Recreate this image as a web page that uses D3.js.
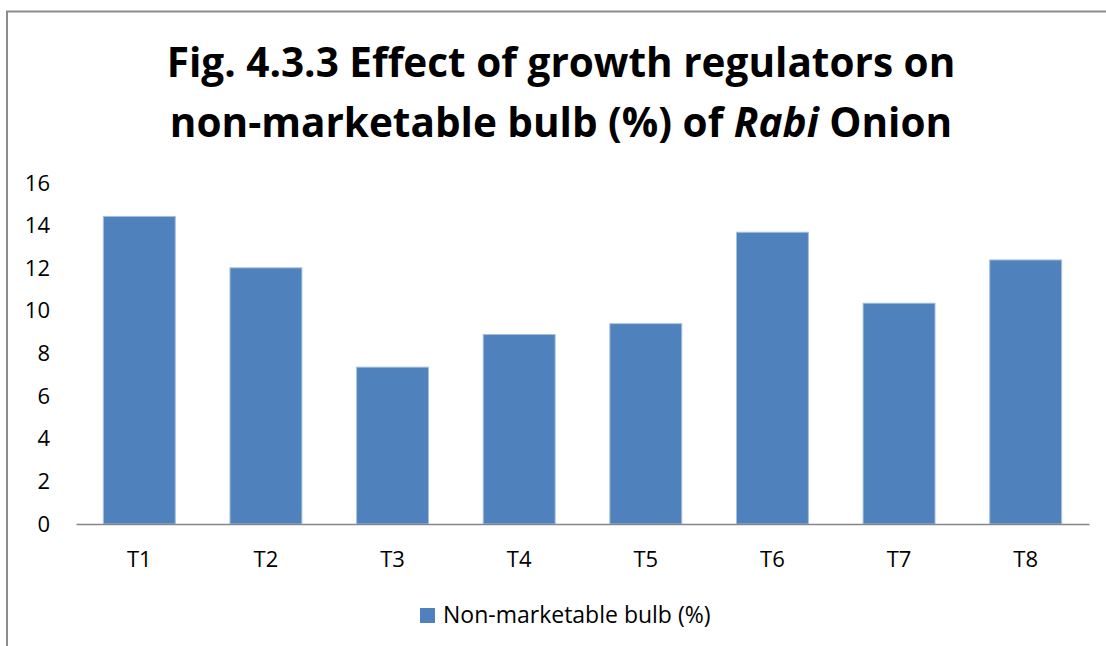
<!DOCTYPE html>
<html>
<head>
<meta charset="utf-8">
<script src="https://cdn.jsdelivr.net/npm/d3@7"></script>
<style>
	body { margin: 0; background: #fff; }
	svg { display: block; font-family: "Open Sans", "Noto Sans", sans-serif; }
</style>
</head>
<body>
<div id="chart"></div>
<script>

// data
var treatments= ["T1", "T2", "T3", "T4", "T5", "T6", "T7", "T8"];
var nonMarketable= [14.43, 12.02, 7.36, 8.89, 9.40, 13.69, 10.36, 12.39];
var yTicks= [0, 2, 4, 6, 8, 10, 12, 14, 16];
var seriesName= "Non-marketable bulb (%)";

var W= 1106, H= 646;
var margin= {top: 183, right: 17, bottom: 122, left: 76};
var width= W- margin.left- margin.right;
var height= H- margin.top- margin.bottom;

var svg= d3.select("#chart")
	.append("svg")
	.attr("width", W)
	.attr("height", H);

// chart area border (only top and left visible in the crop)
svg.append("path")
	.attr("d", "M7,646 V11.5 H1106")
	.attr("fill", "none")
	.attr("stroke", "#8c8c8c")
	.attr("stroke-width", 2);

// title
var title= svg.append("text")
	.attr("text-anchor", "middle")
	.style("font-weight", "bold")
	.style("font-size", "40.5px")
	.attr("fill", "#000");

title.append("tspan")
	.attr("x", 561).attr("y", 77)
	.text("Fig. 4.3.3 Effect of growth regulators on");

var l2= title.append("tspan")
	.attr("x", 561).attr("y", 137);
l2.append("tspan").text("non-marketable bulb (%) of ");
l2.append("tspan").style("font-style", "italic").text("Rabi");
l2.append("tspan").text(" Onion");

var g= svg.append("g")
	.attr("transform", "translate(" + margin.left + "," + margin.top + ")");

var x= d3.scaleBand()
	.domain(treatments)
	.range([0, width])
	.paddingInner(0.432)
	.paddingOuter(0.216);

var y= d3.scaleLinear()
	.domain([0, 16])
	.range([height, 0]);

// y axis labels, no line
var yAxis= g.append("g")
	.call(d3.axisLeft(y).tickValues(yTicks).tickSize(0).tickPadding(26));
yAxis.select(".domain").remove();
yAxis.selectAll("text")
	.style("font-size", "22px")
	.style("font-family", "'Open Sans', sans-serif")
	.attr("fill", "#000");

// bars
g.selectAll("rect.bar")
	.data(nonMarketable)
	.enter()
	.append("rect")
		.attr("class", "bar")
		.attr("x", function(d, i) { return x(treatments[i]); })
		.attr("y", function(d) { return y(d); })
		.attr("width", x.bandwidth())
		.attr("height", function(d) { return height- y(d); })
		.attr("fill", "#4f81bd")
		.attr("stroke", "#a7bfde")
		.attr("stroke-width", 1);

// x axis
var xAxis= g.append("g")
	.attr("transform", "translate(0," + height + ")")
	.call(d3.axisBottom(x).tickSize(0).tickPadding(27));
xAxis.select(".domain")
	.attr("stroke", "#868686")
	.attr("stroke-width", 1.5);
xAxis.selectAll("text")
	.style("font-size", "22px")
	.style("font-family", "'Open Sans', sans-serif")
	.attr("fill", "#000");

// legend
var legend= svg.append("g")
	.attr("transform", "translate(420,608)");
legend.append("rect")
	.attr("width", 15)
	.attr("height", 15)
	.attr("fill", "#4f81bd");
legend.append("text")
	.attr("x", 23)
	.attr("y", 15)
	.style("font-size", "23px")
	.attr("fill", "#000")
	.text(seriesName);

</script>
</body>
</html>
